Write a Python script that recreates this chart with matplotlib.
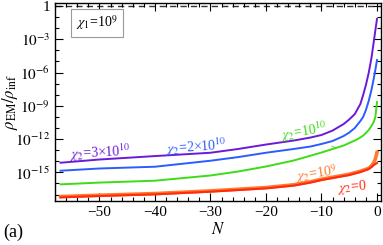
import numpy as np
import matplotlib
matplotlib.use('Agg')
from matplotlib import pyplot as plt
from matplotlib.ticker import FixedLocator, MultipleLocator, FuncFormatter, NullFormatter

plt.rcParams['font.family'] = ['Liberation Serif', 'DejaVu Serif']
plt.rcParams['mathtext.fontset'] = 'stix'

# e-folds N (shared grid for all curves)
N = [-57, -50, -40, -30, -25, -20, -15, -12, -10, -8, -6, -5, -4, -3, -2.5, -2, -1.5, -1, -0.6, -0.3, 0]

# log10(rho_EM / rho_inf)
log_chi2_3e10 = [-14.13, -13.84, -13.53, -13.23, -12.89, -12.49, -12.13, -11.86, -11.63, -11.23, -10.64,
                 -10.23, -9.74, -8.84, -8.03, -7.12, -6.04, -4.69, -3.29, -2.21, -1.17]
log_chi2_2e10 = [-14.85, -14.65, -14.49, -13.95, -13.62, -13.23, -12.89, -12.67, -12.44, -12.17, -11.72,
                 -11.41, -11.00, -10.37, -10.01, -9.38, -8.57, -7.57, -6.58, -5.77, -4.87]
log_chi2_1e10 = [-16.08, -15.92, -15.75, -15.28, -14.92, -14.47, -13.93, -13.50, -13.21, -12.89, -12.58,
                 -12.35, -12.13, -11.86, -11.68, -11.45, -11.18, -10.82, -10.46, -10.01, -8.66]
log_chi2_1e9 = [-17.18, -17.06, -16.91, -16.67, -16.52, -16.37, -16.12, -15.85, -15.62, -15.44, -15.26,
                -15.17, -15.03, -14.90, -14.81, -14.72, -14.63, -14.42, -14.15, -13.80, -13.20]
log_chi2_0 = [-17.25, -17.13, -16.98, -16.74, -16.59, -16.44, -16.19, -15.92, -15.69, -15.51, -15.33,
              -15.24, -15.10, -14.97, -14.88, -14.79, -14.70, -14.52, -14.34, -14.25, -14.16]

c_purple = '#6a1bd8'
c_blue = '#2b5cff'
c_green = '#3ddc18'
c_orange = '#ff7a2a'
c_red = '#ff2a10'

fig = plt.figure(figsize=(3.83, 2.45), dpi=100)
ax = fig.add_axes([55 / 383, 1 - 201 / 245, 326 / 383, 198 / 245])

N = np.array(N)
ax.axhline(1.0, color='#333333', lw=1.0, ls=(0, (4.5, 3)), zorder=1)
ax.plot(N, 10 ** np.array(log_chi2_3e10), color=c_purple, lw=1.4)
ax.plot(N, 10 ** np.array(log_chi2_2e10), color=c_blue, lw=1.4)
ax.plot(N, 10 ** np.array(log_chi2_1e10), color=c_green, lw=1.4)
ax.plot(N, 10 ** np.array(log_chi2_1e9), color=c_orange, lw=2.6)
ax.plot(N, 10 ** np.array(log_chi2_0), color=c_red, lw=1.5)

ax.set_yscale('log')
ax.set_xlim(-58.0, 0.72)
ax.set_ylim(10 ** -17.58, 10 ** 0.27)

# ticks: majors every 3 decades, minors every decade
ax.yaxis.set_major_locator(FixedLocator([10.0 ** k for k in range(-15, 1, 3)]))
ax.yaxis.set_minor_locator(FixedLocator([10.0 ** k for k in range(-17, 1)]))
ax.yaxis.set_minor_formatter(NullFormatter())


def ylab(v, pos):
    e = int(round(np.log10(v)))
    if e == 0:
        return '1'
    return r'$10^{%d}$' % e


ax.yaxis.set_major_formatter(FuncFormatter(ylab))
ax.xaxis.set_major_locator(MultipleLocator(10))
ax.xaxis.set_minor_locator(MultipleLocator(2))
ax.xaxis.set_major_formatter(FuncFormatter(lambda v, p: ('%d' % v).replace('-', '\u2212')))
ax.tick_params(which='both', direction='in', top=True, right=True, labelsize=11, width=0.8)
ax.tick_params(which='major', length=5.5)
ax.tick_params(which='minor', length=3)
for s in ax.spines.values():
    s.set_linewidth(1.0)

ax.set_xlabel(r'$N$', fontsize=12, labelpad=2)
ax.set_ylabel(r'$\rho_{\rm EM}/\rho_{\rm inf}$', fontsize=12)
ax.yaxis.set_label_coords(-0.108, 0.5)

# curve labels
ax.text(-49.9, 10 ** -13.26, r'$\chi_2$=3×10$^{10}$', color=c_purple, fontsize=10,
        ha='center', va='center', rotation=3)
ax.annotate(r'$\chi_2$=2×10$^{10}$', xy=(-26, 10 ** -13.75), xytext=(-32.6, 10 ** -12.71),
            color=c_blue, fontsize=10, ha='center', va='center', rotation=4,
            arrowprops=dict(arrowstyle='-', color=c_blue, lw=0.6, shrinkA=1, shrinkB=0))
ax.annotate(r'$\chi_2$=10$^{10}$', xy=(-7.6, 10 ** -12.76), xytext=(-13.3, 10 ** -11.36),
            color=c_green, fontsize=10, ha='center', va='center', rotation=9,
            arrowprops=dict(arrowstyle='-', color=c_green, lw=0.6, shrinkA=1, shrinkB=0))
ax.text(-10.9, 10 ** -15.15, r'$\chi_2$=10$^{9}$', color=c_orange, fontsize=10,
        ha='center', va='center', rotation=8)
ax.text(-4.5, 10 ** -16.3, r'$\chi_2$=0', color=c_red, fontsize=10,
        ha='center', va='center', rotation=5)

ax.text(0.129, 0.90, r'$\chi_1$=10$^{9}$', transform=ax.transAxes, fontsize=10,
        ha='center', va='center',
        bbox=dict(boxstyle='square,pad=0.35', fc='white', ec='#9a9a9a', lw=0.8))

fig.text(3 / 383, 1 - 232 / 245, '(a)', fontsize=13, ha='left', va='center')

fig.savefig('out.png', dpi=100)
